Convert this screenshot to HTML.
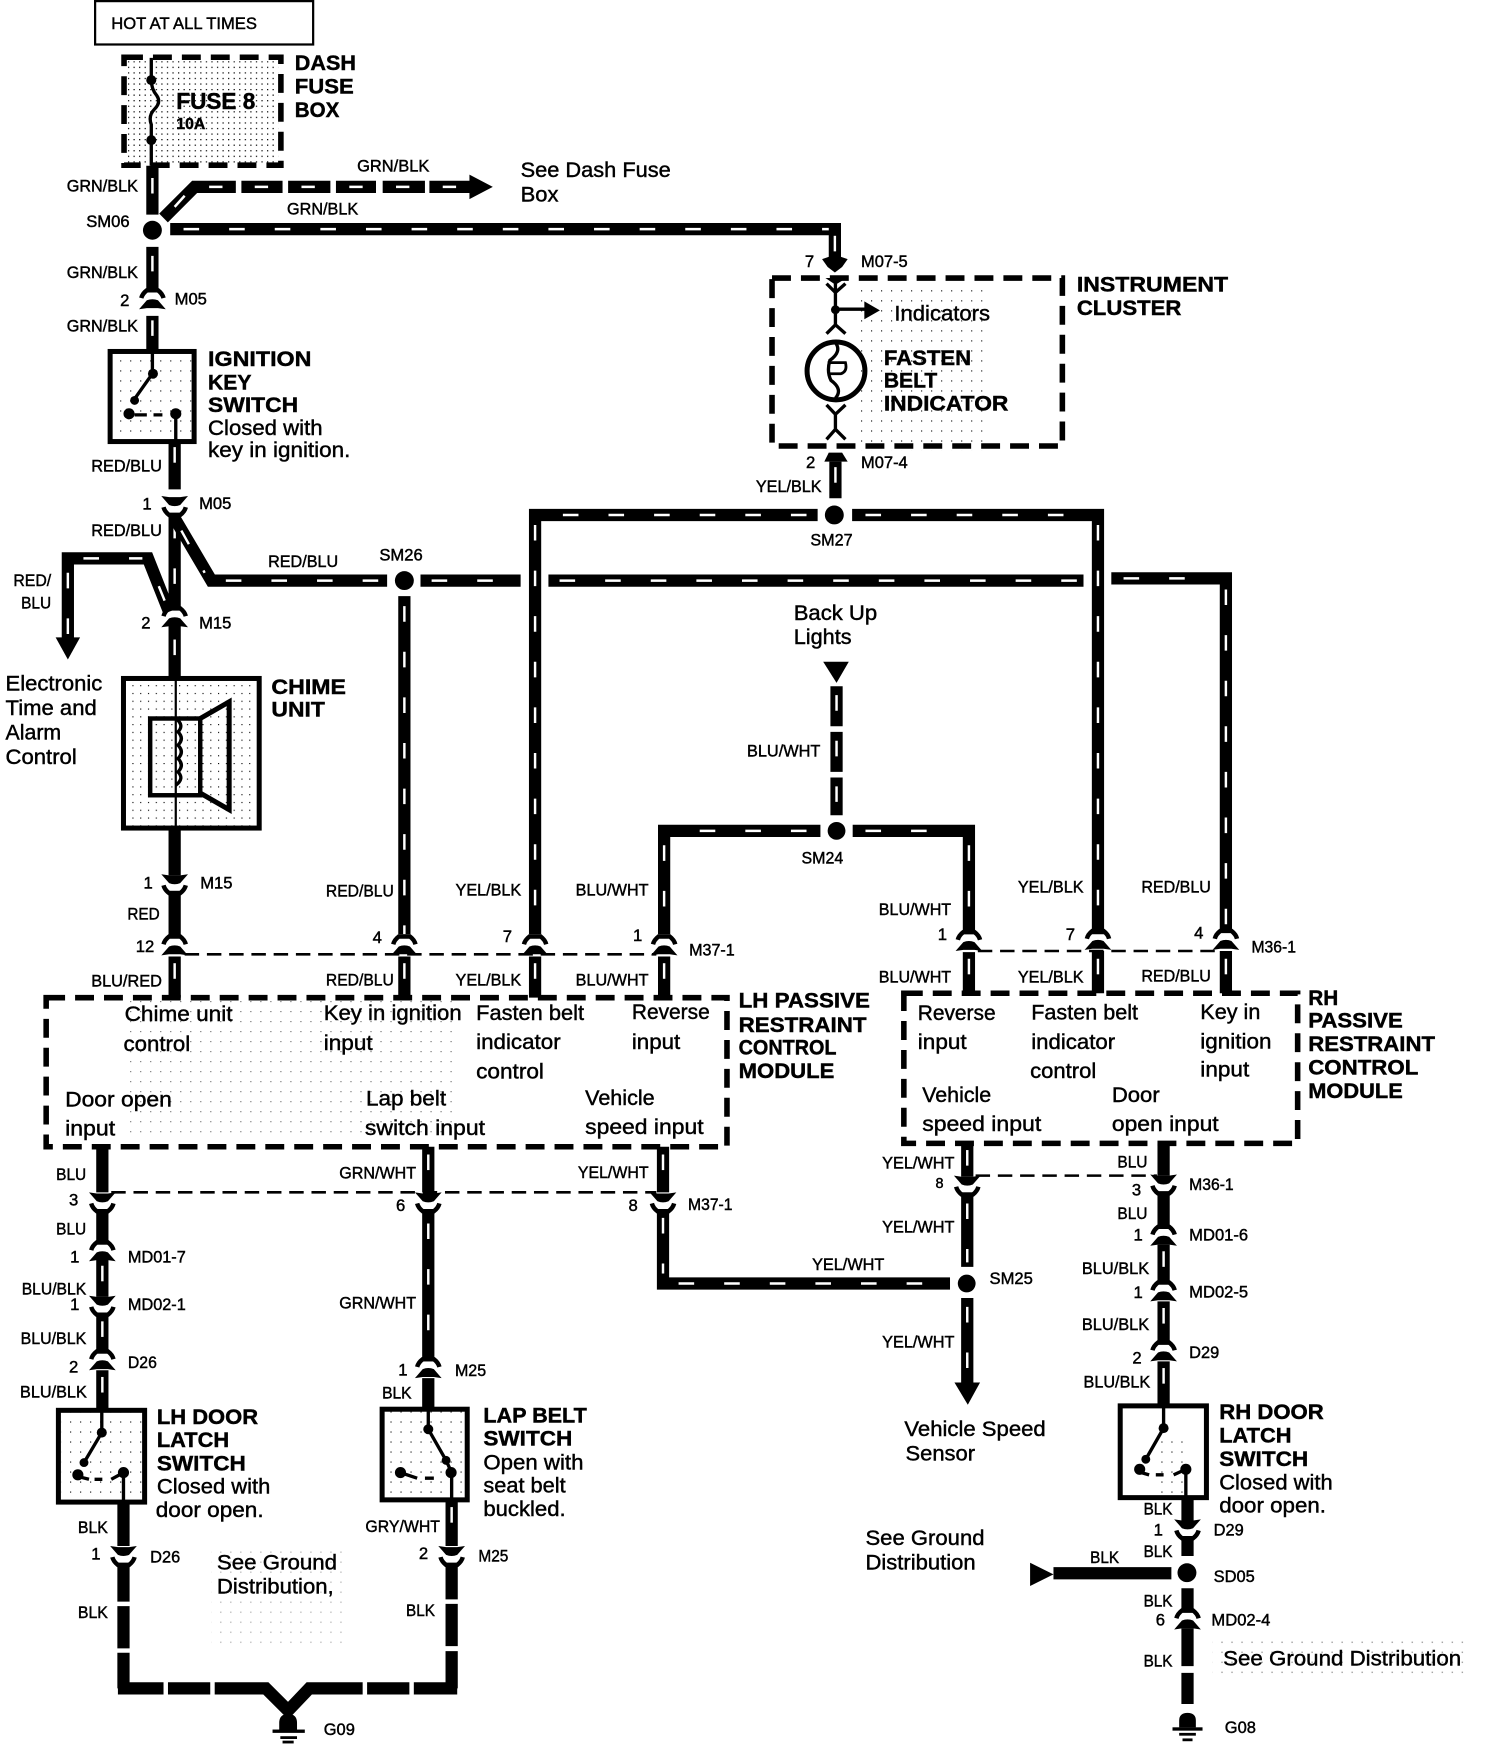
<!DOCTYPE html>
<html><head><meta charset="utf-8"><style>
html,body{margin:0;padding:0;background:#fff}
svg{display:block}
text{font-family:"Liberation Sans",sans-serif;fill:#000;stroke:#000;stroke-width:.4}
.s{font-size:15px}.r{font-size:19.5px}.b{font-size:19.5px;font-weight:bold}
.w{fill:none;stroke:#000;stroke-width:11}
.t{fill:none;stroke:#fff;stroke-width:2.2;stroke-dasharray:14 27}
.d{fill:none;stroke:#000;stroke-width:5;stroke-dasharray:17 9}
.l{fill:none;stroke:#000;stroke-width:2.3;stroke-dasharray:13 7}
.n{fill:none;stroke:#000;stroke-width:3}
.x{fill:none;stroke:#000;stroke-width:4.5}
</style></head><body>
<svg xmlns="http://www.w3.org/2000/svg" width="1504" height="1744" viewBox="0 0 1352 1568" preserveAspectRatio="none">
<defs>
<g id="cu"><path d="M-10,-2Q-9,-6-5,-9L5,-9Q9,-6 10,-2" fill="none" stroke="#000" stroke-width="4"/><path d="M-12,8L-5,0Q0,-2 5,0L12,8L5,7L-5,7Z" fill="#000"/></g>
<g id="cd" transform="scale(1,-1)"><use href="#cu"/></g>
<pattern id="p" width="5" height="5" patternUnits="userSpaceOnUse"><rect width="1.1" height="1.1" fill="#000"/></pattern>
<pattern id="q" width="9" height="9" patternUnits="userSpaceOnUse"><rect width="1" height="1" fill="#000"/></pattern>
<pattern id="u" width="7" height="7" patternUnits="userSpaceOnUse"><rect width="1" height="1" fill="#000"/></pattern>
</defs>
<rect width="1352" height="1568" fill="#fff"/>
<!-- stipple -->
<rect x="115" y="55" width="135" height="92" fill="url(#p)"/>
<rect x="113" y="612" width="118" height="131" fill="url(#u)"/>
<rect x="102" y="319" width="70" height="75" fill="url(#q)"/>
<rect x="55" y="1270" width="73" height="78" fill="url(#q)"/>
<rect x="346" y="1269" width="72" height="78" fill="url(#q)"/>
<rect x="1040" y="1295" width="30" height="50" fill="url(#q)"/>
<rect x="770" y="255" width="120" height="150" fill="url(#q)"/>
<rect x="110" y="900" width="300" height="125" fill="url(#q)" opacity=".6"/>
<rect x="190" y="1390" width="120" height="90" fill="url(#q)" opacity=".4"/>
<rect x="1090" y="1475" width="230" height="30" fill="url(#q)" opacity=".6"/>
<!-- boxes -->
<rect x="85.5" y="1" width="196" height="39" fill="none" stroke="#000" stroke-width="2"/>
<rect x="111.5" y="51.5" width="141" height="97" class="d"/>
<rect x="694" y="250" width="261" height="151" class="d"/>
<rect x="41.5" y="897" width="612" height="134" class="d"/>
<rect x="812.5" y="893" width="354" height="135" class="d"/>
<rect x="99" y="316" width="75.5" height="81" class="x"/>
<rect x="52.5" y="1268" width="77.5" height="82.5" class="x"/>
<rect x="343.5" y="1267" width="76.5" height="81.5" class="x"/>
<rect x="1007" y="1264" width="77.5" height="82.5" class="x"/>
<rect x="111" y="610" width="122" height="134.5" class="x"/>
<!-- wires with tracer -->
<path class="w" d="M137,149V193M137,222V263M137,284V316"/>
<path class="t" d="M137,160V193M137,230V263M137,288V316"/>
<path class="w" d="M147,196L175,168H212M217,168H254M259,168H297M302,168H338M344,168H382M386,168H425"/>
<path class="t" d="M157,186L166,176"/>
<path class="t" d="M188,168H200M229,168H241M271,168H283M314,168H326M356,168H368M398,168H410" style="stroke-dasharray:none"/>
<polygon points="422,157 443,168 422,179"/>
<path class="w" d="M153,206H750.5V236"/>
<polygon points="739,233 750.5,229 762,233 757,240 750.5,245 744,240"/>
<path class="t" d="M165,206H745" stroke-dasharray="14 26"/><path class="t" d="M750.5,212V230"/>
<path class="w" d="M157,397V440"/><path class="t" d="M157,402V440"/>
<path class="w" d="M157,461V548"/><path class="t" d="M157,470V548"/>
<path class="w" d="M157,561V610"/><path class="t" d="M157,575V610"/>
<path class="w" d="M157,466L190,522H348"/><path class="t" d="M163,477L184,515"/><path class="t" d="M203,522H345" stroke-dasharray="14 26"/>
<path class="w" d="M152,550L133,502H61V574"/><path class="t" d="M148,540L135,508"/><path class="t" d="M75,502H128" stroke-dasharray="14 26"/><path class="t" d="M61,515V570"/>
<polygon points="50,573 72,573 61,593"/>
<path class="w" d="M378,522H468M493,522H974"/><path class="t" d="M388,522H465M503,522H970" stroke-dasharray="14 26"/>
<path class="w" d="M999,520H1102V838"/><path class="t" d="M1010,520H1090" stroke-dasharray="14 28"/><path class="t" d="M1102,530V838"/>
<path class="w" d="M363.5,536V840"/><path class="t" d="M363.5,545V840"/>
<path class="w" d="M735,463H481V840"/><path class="t" d="M725,463H490" stroke-dasharray="14 26"/><path class="t" d="M481,472V840"/>
<path class="w" d="M766,463H987V840"/><path class="t" d="M778,463H975" stroke-dasharray="14 26"/><path class="t" d="M987,472V840"/>
<path class="w" d="M751,415V448"/><path class="t" d="M751,420V446"/>
<path class="w" d="M752,617V653M752,658V694M752,699V733"/><path class="t" d="M752,625V733" stroke-dasharray="14 26"/>
<path class="w" d="M737.5,747H597V840"/><path class="t" d="M725,747H610" stroke-dasharray="14 26"/><path class="t" d="M597,760V840"/>
<path class="w" d="M766.5,747H871V840"/><path class="t" d="M778,747H860" stroke-dasharray="14 26"/><path class="t" d="M871,760V840"/>
<path class="w" d="M157,745V787M157,801V843"/>
<path class="w" d="M157,860V897M363.5,860V897M481,860V897M597,860V897"/>
<path class="t" d="M157,866V892"/><path class="t" d="M363.5,866V892"/><path class="t" d="M481,866V892"/><path class="t" d="M597,866V892"/>
<path class="w" d="M871,856V893M987,855V893M1102,855V893"/>
<path class="t" d="M871,862V890"/><path class="t" d="M987,862V890"/><path class="t" d="M1102,862V890"/>
<path class="l" d="M166,858H590"/><path class="l" d="M879,855H1095"/>
<path class="w" d="M92,1031V1072M385,1031V1072M596,1031V1072"/>
<path class="t" d="M385,1038V1070"/><path class="t" d="M596,1038V1070"/>
<path class="l" d="M100,1072H590"/>
<path class="w" d="M92,1087V1119M92,1132V1166M92,1180V1217M92,1232V1268"/><path class="t" d="M92,1138V1162"/><path class="t" d="M92,1188V1213"/><path class="t" d="M92,1238V1264"/>
<path class="w" d="M385,1087V1224M385,1239V1267"/><path class="t" d="M385,1100V1215"/>
<path class="w" d="M596,1087V1154H854"/><path class="t" d="M596,1095V1145"/><path class="t" d="M610,1154H850" stroke-dasharray="14 26"/>
<path class="w" d="M869.5,1028V1058M869.5,1072V1139M869.5,1167V1243"/><path class="t" d="M869.5,1034V1056"/><path class="t" d="M869.5,1082V1135"/><path class="t" d="M869.5,1175V1240"/>
<polygon points="858,1243 881,1243 870,1263"/>
<path class="l" d="M877,1057H1040"/>
<path class="w" d="M1046,1028V1057M1046,1071V1105M1046,1119V1155M1046,1170V1209M1046,1224V1264"/>
<path class="t" d="M1046,1125V1150"/><path class="t" d="M1046,1176V1205"/><path class="t" d="M1046,1230V1260"/>
<path class="w" d="M1067.5,1347V1367M1067.5,1381V1399M1067.5,1428V1450M1067.5,1464V1498M1067.5,1504V1532"/>
<path class="w" d="M947,1414.5H1053"/>
<polygon points="926,1405 947,1415.5 926,1426"/>
<path class="w" d="M111,1351V1390M111,1405V1440M111,1444V1482M111,1486V1518"/>
<path class="w" d="M406,1349V1390M406,1405V1438M406,1442V1480M406,1484.5V1518"/>
<path class="t" d="M406,1355V1388"/>
<path class="w" d="M106,1518H147M151,1518H189M193,1518H239L259,1538L278,1518H326M330,1518H368M372,1518H411"/>
<!-- nodes -->
<g><circle cx="137" cy="207" r="8.5"/><circle cx="363.5" cy="522" r="8.5"/><circle cx="750" cy="463" r="8.5"/><circle cx="752" cy="747" r="8"/><circle cx="869" cy="1154" r="8"/><circle cx="1067" cy="1414" r="8.5"/></g>
<!-- connectors -->
<g transform="translate(137,270)"><use href="#cu"/></g>
<g transform="translate(157,454)"><use href="#cd"/></g>
<g transform="translate(157,556)"><use href="#cu"/></g>
<g transform="translate(157,794)"><use href="#cd"/></g>
<g transform="translate(157,851)"><use href="#cu"/></g>
<g transform="translate(363.5,851)"><use href="#cu"/></g>
<g transform="translate(481,851)"><use href="#cu"/></g>
<g transform="translate(597,851)"><use href="#cu"/></g>
<g transform="translate(871,847)"><use href="#cu"/></g>
<g transform="translate(987,846)"><use href="#cu"/></g>
<g transform="translate(1102,846)"><use href="#cu"/></g>
<g transform="translate(92,1080)"><use href="#cd"/></g>
<g transform="translate(385,1080)"><use href="#cd"/></g>
<g transform="translate(596,1080)"><use href="#cd"/></g>
<g transform="translate(92,1126)"><use href="#cu"/></g>
<g transform="translate(92,1173)"><use href="#cd"/></g>
<g transform="translate(92,1224)"><use href="#cu"/></g>
<g transform="translate(385,1231)"><use href="#cu"/></g>
<g transform="translate(111,1398)"><use href="#cd"/></g>
<g transform="translate(406,1398)"><use href="#cd"/></g>
<g transform="translate(869.5,1065)"><use href="#cd"/></g>
<g transform="translate(1046,1064)"><use href="#cd"/></g>
<g transform="translate(1046,1112)"><use href="#cu"/></g>
<g transform="translate(1046,1162)"><use href="#cu"/></g>
<g transform="translate(1046,1216)"><use href="#cu"/></g>
<g transform="translate(1067.5,1374)"><use href="#cd"/></g>
<g transform="translate(1067.5,1457)"><use href="#cu"/></g>
<!-- fuse -->
<path class="n" d="M136,52V72Q136,80 141,86Q145,92 139,98Q133,104 136,112V149"/>
<circle cx="136" cy="72" r="4.5"/><circle cx="136" cy="126" r="4.5"/>
<!-- switches -->
<g class="n"><path d="M137,316V336L120,360"/><path d="M121,373H132M138,373H146"/><path d="M158,372V397"/></g>
<circle cx="137.5" cy="336" r="4.5"/><circle cx="121" cy="360" r="4"/><circle cx="116" cy="372" r="5"/><circle cx="158" cy="372" r="5"/>
<g class="n"><path d="M91.5,1268V1288L75.5,1315"/><path d="M72,1328L80,1330M85,1330H92M100,1330L111,1324V1351"/></g>
<circle cx="91.5" cy="1288" r="4.5"/><circle cx="75.5" cy="1315" r="4"/><circle cx="70" cy="1326" r="5"/><circle cx="111" cy="1324" r="5"/>
<g class="n"><path d="M385,1267V1285L401,1313L406,1324V1349"/><path d="M360,1324L375,1329M382,1329H390"/></g>
<circle cx="385" cy="1285" r="4.5"/><circle cx="401" cy="1313" r="4"/><circle cx="405.5" cy="1324" r="5"/><circle cx="360" cy="1324" r="5"/>
<g class="n"><path d="M1046,1264V1284L1030,1312"/><path d="M1026,1324L1033,1326M1039,1326H1046M1055,1326L1066,1321V1347"/></g>
<circle cx="1046" cy="1284" r="4.5"/><circle cx="1030" cy="1312" r="4"/><circle cx="1024.5" cy="1321" r="5"/><circle cx="1066" cy="1321" r="5"/>
<!-- chime -->
<path d="M158,610V745" fill="none" stroke="#000" stroke-width="2"/>
<rect x="135" y="646" width="45" height="69" fill="none" stroke="#000" stroke-width="4"/>
<path class="x" d="M180,646L206,631V728L180,713"/>
<path class="n" d="M158,646Q166,652 160,658Q166,664 160,670Q166,676 160,682Q166,688 160,694Q166,700 158,706" stroke-width="2.5"/>
<!-- instrument interior -->
<polygon points="742,250 761,250 751,256"/>
<g class="n"><path d="M743,255L751,263L760,255M751,255V292M743,300L751,292L760,300M751,278H778"/>
<path d="M743,364L751,372.5L760,364M751,372V386M743,395L751,386L760,395"/></g>
<circle cx="751" cy="278.5" r="4"/><polygon points="777,271 791,279 777,287"/>
<ellipse cx="751.5" cy="333.5" rx="26" ry="26" fill="none" stroke="#000" stroke-width="4.5"/>
<path class="n" d="M751,308Q757,316 746,324Q743,334 747,342Q758,350 751,358" stroke-width="2.3"/>
<path d="M744,326H760Q762,334 756,336H744" fill="none" stroke="#000" stroke-width="2.5"/>
<polygon points="741,415 745,407 757,407 762,415"/>
<!-- grounds -->
<path d="M251,1556V1549Q251,1541 259,1541Q267,1541 267,1549V1556Z"/><rect x="245" y="1555" width="29" height="3"/><rect x="252" y="1561" width="15" height="2.5"/><rect x="254" y="1565" width="10" height="2.5"/>
<path d="M1060,1553V1547Q1060,1540 1067.5,1540Q1075,1540 1075,1547V1553Z"/><rect x="1054" y="1553" width="27" height="3"/><rect x="1060" y="1558" width="15" height="2.5"/><rect x="1063" y="1563" width="9" height="2.5"/>
<polygon points="740,595 763,595 752,614"/>
<!-- labels -->
<text class="s" x="100" y="26" textLength="131" lengthAdjust="spacingAndGlyphs">HOT AT ALL TIMES</text>
<text class="b" x="265" y="63" textLength="55" lengthAdjust="spacingAndGlyphs">DASH</text>
<text class="b" x="265" y="84" textLength="53" lengthAdjust="spacingAndGlyphs">FUSE</text>
<text class="b" x="265" y="105" textLength="40" lengthAdjust="spacingAndGlyphs">BOX</text>
<text class="b" x="158.5" y="98" textLength="71" lengthAdjust="spacingAndGlyphs" style="font-size:21px">FUSE 8</text>
<text class="b" x="158.5" y="116" textLength="26" lengthAdjust="spacingAndGlyphs" style="font-size:14px">10A</text>
<text class="s" x="60" y="172" textLength="64" lengthAdjust="spacingAndGlyphs">GRN/BLK</text>
<text class="s" x="60" y="250" textLength="64" lengthAdjust="spacingAndGlyphs">GRN/BLK</text>
<text class="s" x="60" y="298" textLength="64" lengthAdjust="spacingAndGlyphs">GRN/BLK</text>
<text class="s" x="321" y="154" textLength="65" lengthAdjust="spacingAndGlyphs">GRN/BLK</text>
<text class="s" x="258" y="193" textLength="64" lengthAdjust="spacingAndGlyphs">GRN/BLK</text>
<text class="s" x="77.5" y="204" textLength="39" lengthAdjust="spacingAndGlyphs">SM06</text>
<text class="s" x="108" y="275">2</text>
<text class="s" x="157" y="274" textLength="29" lengthAdjust="spacingAndGlyphs">M05</text>
<text class="r" x="468" y="159" textLength="135" lengthAdjust="spacingAndGlyphs">See Dash Fuse</text>
<text class="r" x="468" y="181" textLength="34" lengthAdjust="spacingAndGlyphs">Box</text>
<text class="b" x="187" y="329" textLength="93" lengthAdjust="spacingAndGlyphs">IGNITION</text>
<text class="b" x="187" y="350" textLength="39" lengthAdjust="spacingAndGlyphs">KEY</text>
<text class="b" x="187" y="370.5" textLength="81" lengthAdjust="spacingAndGlyphs">SWITCH</text>
<text class="r" x="187" y="391" textLength="103" lengthAdjust="spacingAndGlyphs">Closed with</text>
<text class="r" x="187" y="411" textLength="128" lengthAdjust="spacingAndGlyphs">key in ignition.</text>
<text class="s" x="82" y="424" textLength="63.5" lengthAdjust="spacingAndGlyphs">RED/BLU</text>
<text class="s" x="128" y="458">1</text>
<text class="s" x="179" y="457.5" textLength="29" lengthAdjust="spacingAndGlyphs">M05</text>
<text class="s" x="82" y="482" textLength="63.5" lengthAdjust="spacingAndGlyphs">RED/BLU</text>
<text class="s" x="12" y="527" textLength="34" lengthAdjust="spacingAndGlyphs">RED/</text>
<text class="s" x="19" y="547" textLength="27" lengthAdjust="spacingAndGlyphs">BLU</text>
<text class="s" x="241" y="510" textLength="63" lengthAdjust="spacingAndGlyphs">RED/BLU</text>
<text class="s" x="341" y="504" textLength="39" lengthAdjust="spacingAndGlyphs">SM26</text>
<text class="s" x="127" y="565">2</text>
<text class="s" x="179" y="565" textLength="29" lengthAdjust="spacingAndGlyphs">M15</text>
<text class="b" x="244" y="624" textLength="67" lengthAdjust="spacingAndGlyphs">CHIME</text>
<text class="b" x="244" y="644" textLength="48" lengthAdjust="spacingAndGlyphs">UNIT</text>
<text class="r" x="5" y="621" textLength="87" lengthAdjust="spacingAndGlyphs">Electronic</text>
<text class="r" x="5" y="643" textLength="82" lengthAdjust="spacingAndGlyphs">Time and</text>
<text class="r" x="5" y="665" textLength="50" lengthAdjust="spacingAndGlyphs">Alarm</text>
<text class="r" x="5" y="687" textLength="64" lengthAdjust="spacingAndGlyphs">Control</text>
<text class="s" x="129" y="799">1</text>
<text class="s" x="180" y="799" textLength="29" lengthAdjust="spacingAndGlyphs">M15</text>
<text class="s" x="114.5" y="826.5" textLength="29" lengthAdjust="spacingAndGlyphs">RED</text>
<text class="s" x="122" y="856">12</text>
<text class="s" x="82" y="887" textLength="63.5" lengthAdjust="spacingAndGlyphs">BLU/RED</text>
<text class="s" x="293" y="806" textLength="61" lengthAdjust="spacingAndGlyphs">RED/BLU</text>
<text class="s" x="293" y="886" textLength="61" lengthAdjust="spacingAndGlyphs">RED/BLU</text>
<text class="s" x="409.5" y="805" textLength="59" lengthAdjust="spacingAndGlyphs">YEL/BLK</text>
<text class="s" x="409.5" y="886" textLength="59" lengthAdjust="spacingAndGlyphs">YEL/BLK</text>
<text class="s" x="517.5" y="805" textLength="65.5" lengthAdjust="spacingAndGlyphs">BLU/WHT</text>
<text class="s" x="517.5" y="886" textLength="65.5" lengthAdjust="spacingAndGlyphs">BLU/WHT</text>
<text class="s" x="335" y="848">4</text><text class="s" x="452" y="847">7</text><text class="s" x="569" y="846">1</text>
<text class="s" x="619.5" y="859" textLength="41" lengthAdjust="spacingAndGlyphs">M37-1</text>
<text class="r" x="112" y="918" textLength="97" lengthAdjust="spacingAndGlyphs">Chime unit</text>
<text class="r" x="111" y="945" textLength="60" lengthAdjust="spacingAndGlyphs">control</text>
<text class="r" x="291" y="917" textLength="124" lengthAdjust="spacingAndGlyphs">Key in ignition</text>
<text class="r" x="291" y="944" textLength="44" lengthAdjust="spacingAndGlyphs">input</text>
<text class="r" x="428" y="917" textLength="97" lengthAdjust="spacingAndGlyphs">Fasten belt</text>
<text class="r" x="428" y="943" textLength="76" lengthAdjust="spacingAndGlyphs">indicator</text>
<text class="r" x="428" y="969.5" textLength="61" lengthAdjust="spacingAndGlyphs">control</text>
<text class="r" x="568" y="916" textLength="70" lengthAdjust="spacingAndGlyphs">Reverse</text>
<text class="r" x="568" y="943" textLength="43.5" lengthAdjust="spacingAndGlyphs">input</text>
<text class="r" x="58.5" y="995" textLength="96" lengthAdjust="spacingAndGlyphs">Door open</text>
<text class="r" x="58.5" y="1021" textLength="45" lengthAdjust="spacingAndGlyphs">input</text>
<text class="r" x="329" y="994" textLength="72" lengthAdjust="spacingAndGlyphs">Lap belt</text>
<text class="r" x="328" y="1020.5" textLength="108" lengthAdjust="spacingAndGlyphs">switch input</text>
<text class="r" x="526" y="993.5" textLength="62.5" lengthAdjust="spacingAndGlyphs">Vehicle</text>
<text class="r" x="526" y="1019.5" textLength="106.5" lengthAdjust="spacingAndGlyphs">speed input</text>
<text class="b" x="664" y="906" textLength="118" lengthAdjust="spacingAndGlyphs">LH PASSIVE</text>
<text class="b" x="664" y="928" textLength="115" lengthAdjust="spacingAndGlyphs">RESTRAINT</text>
<text class="b" x="664" y="948" textLength="88" lengthAdjust="spacingAndGlyphs">CONTROL</text>
<text class="b" x="664" y="969" textLength="86" lengthAdjust="spacingAndGlyphs">MODULE</text>
<text class="b" x="968" y="262" textLength="136" lengthAdjust="spacingAndGlyphs">INSTRUMENT</text>
<text class="b" x="968" y="283" textLength="94" lengthAdjust="spacingAndGlyphs">CLUSTER</text>
<text class="r" x="804" y="288" textLength="86" lengthAdjust="spacingAndGlyphs">Indicators</text>
<text class="b" x="794.5" y="328" textLength="78.5" lengthAdjust="spacingAndGlyphs">FASTEN</text>
<text class="b" x="794.5" y="348.5" textLength="48" lengthAdjust="spacingAndGlyphs">BELT</text>
<text class="b" x="794.5" y="369" textLength="112" lengthAdjust="spacingAndGlyphs">INDICATOR</text>
<text class="s" x="723.5" y="240">7</text>
<text class="s" x="774" y="240" textLength="42" lengthAdjust="spacingAndGlyphs">M07-5</text>
<text class="s" x="724.5" y="421">2</text>
<text class="s" x="774" y="421" textLength="42" lengthAdjust="spacingAndGlyphs">M07-4</text>
<text class="s" x="679.5" y="442.5" textLength="59" lengthAdjust="spacingAndGlyphs">YEL/BLK</text>
<text class="s" x="728.5" y="490.5" textLength="38" lengthAdjust="spacingAndGlyphs">SM27</text>
<text class="r" x="713.5" y="557.5" textLength="75" lengthAdjust="spacingAndGlyphs">Back Up</text>
<text class="r" x="713.5" y="579" textLength="52" lengthAdjust="spacingAndGlyphs">Lights</text>
<text class="s" x="671.5" y="680" textLength="66" lengthAdjust="spacingAndGlyphs">BLU/WHT</text>
<text class="s" x="720.5" y="776.5" textLength="37.5" lengthAdjust="spacingAndGlyphs">SM24</text>
<text class="s" x="790" y="822.5" textLength="65" lengthAdjust="spacingAndGlyphs">BLU/WHT</text>
<text class="s" x="790" y="883.5" textLength="65" lengthAdjust="spacingAndGlyphs">BLU/WHT</text>
<text class="s" x="915" y="802.5" textLength="59" lengthAdjust="spacingAndGlyphs">YEL/BLK</text>
<text class="s" x="915" y="883.5" textLength="59" lengthAdjust="spacingAndGlyphs">YEL/BLK</text>
<text class="s" x="1026" y="802.5" textLength="62.5" lengthAdjust="spacingAndGlyphs">RED/BLU</text>
<text class="s" x="1026" y="882.5" textLength="62.5" lengthAdjust="spacingAndGlyphs">RED/BLU</text>
<text class="s" x="843" y="845">1</text><text class="s" x="958" y="845">7</text><text class="s" x="1073.5" y="844">4</text>
<text class="s" x="1125" y="856.5" textLength="40" lengthAdjust="spacingAndGlyphs">M36-1</text>
<text class="r" x="825" y="917" textLength="70" lengthAdjust="spacingAndGlyphs">Reverse</text>
<text class="r" x="825" y="943" textLength="44" lengthAdjust="spacingAndGlyphs">input</text>
<text class="r" x="927" y="916.5" textLength="96" lengthAdjust="spacingAndGlyphs">Fasten belt</text>
<text class="r" x="927" y="943" textLength="75.5" lengthAdjust="spacingAndGlyphs">indicator</text>
<text class="r" x="926" y="969" textLength="59.5" lengthAdjust="spacingAndGlyphs">control</text>
<text class="r" x="1079" y="916" textLength="54" lengthAdjust="spacingAndGlyphs">Key in</text>
<text class="r" x="1079" y="942.5" textLength="64" lengthAdjust="spacingAndGlyphs">ignition</text>
<text class="r" x="1079" y="968" textLength="44" lengthAdjust="spacingAndGlyphs">input</text>
<text class="r" x="829" y="991" textLength="62" lengthAdjust="spacingAndGlyphs">Vehicle</text>
<text class="r" x="829" y="1017" textLength="107" lengthAdjust="spacingAndGlyphs">speed input</text>
<text class="r" x="999.5" y="991" textLength="43" lengthAdjust="spacingAndGlyphs">Door</text>
<text class="r" x="999.5" y="1017" textLength="96" lengthAdjust="spacingAndGlyphs">open input</text>
<text class="b" x="1176" y="903.5" textLength="27" lengthAdjust="spacingAndGlyphs">RH</text>
<text class="b" x="1176" y="924" textLength="85" lengthAdjust="spacingAndGlyphs">PASSIVE</text>
<text class="b" x="1176" y="945" textLength="114" lengthAdjust="spacingAndGlyphs">RESTRAINT</text>
<text class="b" x="1176" y="966" textLength="99" lengthAdjust="spacingAndGlyphs">CONTROL</text>
<text class="b" x="1176" y="987" textLength="85" lengthAdjust="spacingAndGlyphs">MODULE</text>
<text class="s" x="793" y="1050.5" textLength="65" lengthAdjust="spacingAndGlyphs">YEL/WHT</text>
<text class="s" x="841" y="1068" style="font-size:13px">8</text>
<text class="s" x="1004.5" y="1049.5" textLength="27" lengthAdjust="spacingAndGlyphs">BLU</text>
<text class="s" x="1017.5" y="1075">3</text>
<text class="s" x="1069" y="1070" textLength="40" lengthAdjust="spacingAndGlyphs">M36-1</text>
<text class="s" x="1004.5" y="1096" textLength="27" lengthAdjust="spacingAndGlyphs">BLU</text>
<text class="s" x="1019" y="1115.5">1</text>
<text class="s" x="1069" y="1115.5" textLength="53" lengthAdjust="spacingAndGlyphs">MD01-6</text>
<text class="s" x="793" y="1108" textLength="65" lengthAdjust="spacingAndGlyphs">YEL/WHT</text>
<text class="s" x="972.5" y="1145.5" textLength="60.5" lengthAdjust="spacingAndGlyphs">BLU/BLK</text>
<text class="s" x="730" y="1142" textLength="65" lengthAdjust="spacingAndGlyphs">YEL/WHT</text>
<text class="s" x="889.5" y="1154.5" textLength="39" lengthAdjust="spacingAndGlyphs">SM25</text>
<text class="s" x="1019" y="1167">1</text>
<text class="s" x="1069" y="1166.5" textLength="53" lengthAdjust="spacingAndGlyphs">MD02-5</text>
<text class="s" x="972.5" y="1196" textLength="60.5" lengthAdjust="spacingAndGlyphs">BLU/BLK</text>
<text class="s" x="1018" y="1226">2</text>
<text class="s" x="1069" y="1221" textLength="27" lengthAdjust="spacingAndGlyphs">D29</text>
<text class="s" x="974" y="1247.5" textLength="60" lengthAdjust="spacingAndGlyphs">BLU/BLK</text>
<text class="s" x="793" y="1211.5" textLength="65" lengthAdjust="spacingAndGlyphs">YEL/WHT</text>
<text class="r" x="813" y="1291" textLength="127" lengthAdjust="spacingAndGlyphs">Vehicle Speed</text>
<text class="r" x="814" y="1313" textLength="62.5" lengthAdjust="spacingAndGlyphs">Sensor</text>
<text class="b" x="1096" y="1276" textLength="94" lengthAdjust="spacingAndGlyphs">RH DOOR</text>
<text class="b" x="1096" y="1297" textLength="65" lengthAdjust="spacingAndGlyphs">LATCH</text>
<text class="b" x="1096" y="1318" textLength="80" lengthAdjust="spacingAndGlyphs">SWITCH</text>
<text class="r" x="1096" y="1339" textLength="102" lengthAdjust="spacingAndGlyphs">Closed with</text>
<text class="r" x="1096" y="1360" textLength="96" lengthAdjust="spacingAndGlyphs">door open.</text>
<text class="s" x="1028" y="1361.5" textLength="26" lengthAdjust="spacingAndGlyphs">BLK</text>
<text class="s" x="1037" y="1380.5">1</text>
<text class="s" x="1091" y="1380.5" textLength="27" lengthAdjust="spacingAndGlyphs">D29</text>
<text class="s" x="1028" y="1400" textLength="26" lengthAdjust="spacingAndGlyphs">BLK</text>
<text class="s" x="980" y="1405.5" textLength="26" lengthAdjust="spacingAndGlyphs">BLK</text>
<text class="s" x="1091" y="1422.5" textLength="37" lengthAdjust="spacingAndGlyphs">SD05</text>
<text class="r" x="778" y="1389" textLength="107" lengthAdjust="spacingAndGlyphs">See Ground</text>
<text class="r" x="778" y="1411" textLength="99" lengthAdjust="spacingAndGlyphs">Distribution</text>
<text class="s" x="1028" y="1444.5" textLength="26" lengthAdjust="spacingAndGlyphs">BLK</text>
<text class="s" x="1039" y="1461.5">6</text>
<text class="s" x="1089" y="1461.5" textLength="53" lengthAdjust="spacingAndGlyphs">MD02-4</text>
<text class="r" x="1099.5" y="1497.5" textLength="214" lengthAdjust="spacingAndGlyphs">See Ground Distribution</text>
<text class="s" x="1028" y="1498.5" textLength="26" lengthAdjust="spacingAndGlyphs">BLK</text>
<text class="s" x="1101" y="1558" textLength="28" lengthAdjust="spacingAndGlyphs">G08</text>
<text class="s" x="50.5" y="1061" textLength="27" lengthAdjust="spacingAndGlyphs">BLU</text>
<text class="s" x="50.5" y="1110" textLength="27" lengthAdjust="spacingAndGlyphs">BLU</text>
<text class="s" x="62" y="1084">3</text><text class="s" x="356" y="1089">6</text><text class="s" x="565" y="1089">8</text>
<text class="s" x="305" y="1059.5" textLength="69" lengthAdjust="spacingAndGlyphs">GRN/WHT</text>
<text class="s" x="519.5" y="1059" textLength="63.5" lengthAdjust="spacingAndGlyphs">YEL/WHT</text>
<text class="s" x="618.5" y="1088" textLength="40" lengthAdjust="spacingAndGlyphs">M37-1</text>
<text class="s" x="63" y="1135">1</text>
<text class="s" x="115" y="1135" textLength="52" lengthAdjust="spacingAndGlyphs">MD01-7</text>
<text class="s" x="19.5" y="1164" textLength="58" lengthAdjust="spacingAndGlyphs">BLU/BLK</text>
<text class="s" x="63" y="1178">1</text>
<text class="s" x="115" y="1178" textLength="52" lengthAdjust="spacingAndGlyphs">MD02-1</text>
<text class="s" x="18.5" y="1208.5" textLength="59" lengthAdjust="spacingAndGlyphs">BLU/BLK</text>
<text class="s" x="62" y="1234">2</text>
<text class="s" x="115" y="1230" textLength="26" lengthAdjust="spacingAndGlyphs">D26</text>
<text class="s" x="18" y="1256.5" textLength="60" lengthAdjust="spacingAndGlyphs">BLU/BLK</text>
<text class="b" x="141" y="1280.5" textLength="91" lengthAdjust="spacingAndGlyphs">LH DOOR</text>
<text class="b" x="141" y="1301" textLength="65" lengthAdjust="spacingAndGlyphs">LATCH</text>
<text class="b" x="141" y="1322" textLength="80" lengthAdjust="spacingAndGlyphs">SWITCH</text>
<text class="r" x="141" y="1343" textLength="102" lengthAdjust="spacingAndGlyphs">Closed with</text>
<text class="r" x="140" y="1364" textLength="97" lengthAdjust="spacingAndGlyphs">door open.</text>
<text class="s" x="70" y="1378.5" textLength="27" lengthAdjust="spacingAndGlyphs">BLK</text>
<text class="s" x="82" y="1402">1</text>
<text class="s" x="135" y="1405" textLength="27" lengthAdjust="spacingAndGlyphs">D26</text>
<text class="r" x="195" y="1411" textLength="108" lengthAdjust="spacingAndGlyphs">See Ground</text>
<text class="r" x="195" y="1432.5" textLength="105" lengthAdjust="spacingAndGlyphs">Distribution,</text>
<text class="s" x="70" y="1454.5" textLength="27" lengthAdjust="spacingAndGlyphs">BLK</text>
<text class="s" x="365" y="1453" textLength="26" lengthAdjust="spacingAndGlyphs">BLK</text>
<text class="s" x="305" y="1176.5" textLength="69" lengthAdjust="spacingAndGlyphs">GRN/WHT</text>
<text class="s" x="358" y="1236.5">1</text>
<text class="s" x="409" y="1237" textLength="28" lengthAdjust="spacingAndGlyphs">M25</text>
<text class="s" x="343.5" y="1257.5" textLength="26.5" lengthAdjust="spacingAndGlyphs">BLK</text>
<text class="b" x="434.5" y="1279" textLength="93" lengthAdjust="spacingAndGlyphs">LAP BELT</text>
<text class="b" x="434.5" y="1299.5" textLength="80" lengthAdjust="spacingAndGlyphs">SWITCH</text>
<text class="r" x="434.5" y="1321" textLength="90" lengthAdjust="spacingAndGlyphs">Open with</text>
<text class="r" x="434.5" y="1342" textLength="74" lengthAdjust="spacingAndGlyphs">seat belt</text>
<text class="r" x="434.5" y="1363" textLength="74" lengthAdjust="spacingAndGlyphs">buckled.</text>
<text class="s" x="328.5" y="1377.5" textLength="67" lengthAdjust="spacingAndGlyphs">GRY/WHT</text>
<text class="s" x="376.5" y="1401.5">2</text>
<text class="s" x="430" y="1404" textLength="27" lengthAdjust="spacingAndGlyphs">M25</text>
<text class="s" x="291" y="1560" textLength="28" lengthAdjust="spacingAndGlyphs">G09</text>
</svg>
</body></html>
